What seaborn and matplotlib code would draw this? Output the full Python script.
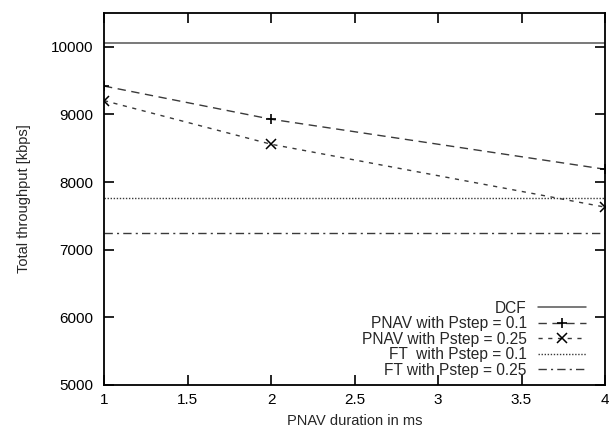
import matplotlib
matplotlib.use("Agg")
import matplotlib.pyplot as plt
import seaborn as sns

# data
pnav_ms = [1, 2, 4]
dcf = [10050, 10050, 10050]
pnav_01 = [9420, 8930, 8190]
pnav_025 = [9205, 8560, 7630]
ft_01 = [7758, 7758, 7758]
ft_025 = [7240, 7240, 7240]

labels = ['DCF', 'PNAV with Pstep = 0.1', 'PNAV with Pstep = 0.25',
          'FT  with Pstep = 0.1', 'FT with Pstep = 0.25']

sns.set_style("ticks")
plt.rcParams['font.family'] = ['Liberation Sans', 'DejaVu Sans']
fs = 10.5

fig = plt.figure(figsize=(6.11, 4.33), dpi=100)
ax = fig.add_axes([104/611, 1-385/433, (605-104)/611, (385-13)/433])

col = '#3a3a3a'
sns.lineplot(x=pnav_ms, y=dcf, ax=ax, color='#555555', lw=1.1, label=labels[0])
sns.lineplot(x=pnav_ms, y=pnav_01, ax=ax, color=col, lw=1.0,
             linestyle=(0, (6, 4)), marker='+', markersize=7, mec='black',
             mew=1.2, label=labels[1])
sns.lineplot(x=pnav_ms, y=pnav_025, ax=ax, color=col, lw=1.0,
             linestyle=(0, (3, 4)), marker='x', markersize=6.5, mec='black',
             mew=1.1, label=labels[2])
sns.lineplot(x=pnav_ms, y=ft_01, ax=ax, color=col, lw=1.0,
             linestyle=(0, (1, 1.2)), label=labels[3])
sns.lineplot(x=pnav_ms, y=ft_025, ax=ax, color=col, lw=1.0,
             linestyle=(0, (6, 3, 1.5, 3)), label=labels[4])

ax.set_xlim(1, 4)
ax.set_ylim(5000, 10500)
ax.set_xticks([1, 1.5, 2, 2.5, 3, 3.5, 4])
ax.set_xticklabels(['1', '1.5', '2', '2.5', '3', '3.5', '4'])
ax.set_yticks([5000, 6000, 7000, 8000, 9000, 10000])
ax.tick_params(direction='in', length=7, width=1.2, top=True, right=True,
               colors='black', labelsize=11)
ax.tick_params(axis='y', pad=8)
ax.tick_params(axis='x', pad=6)
for s in ax.spines.values():
    s.set_linewidth(1.3)
    s.set_color('black')

ax.set_xlabel('PNAV duration in ms', fontsize=fs, labelpad=5)
ax.set_ylabel('Total throughput [kbps]', fontsize=fs, labelpad=14)

leg = ax.legend(loc='lower right', bbox_to_anchor=(0.962, 0.02),
                frameon=False, markerfirst=False, fontsize=11.2,
                handlelength=3.1, labelspacing=0.03, borderaxespad=0,
                borderpad=0, handletextpad=0.7)
for t in leg.get_texts():
    t.set_ha('right')

fig.savefig('out.png', dpi=100)
